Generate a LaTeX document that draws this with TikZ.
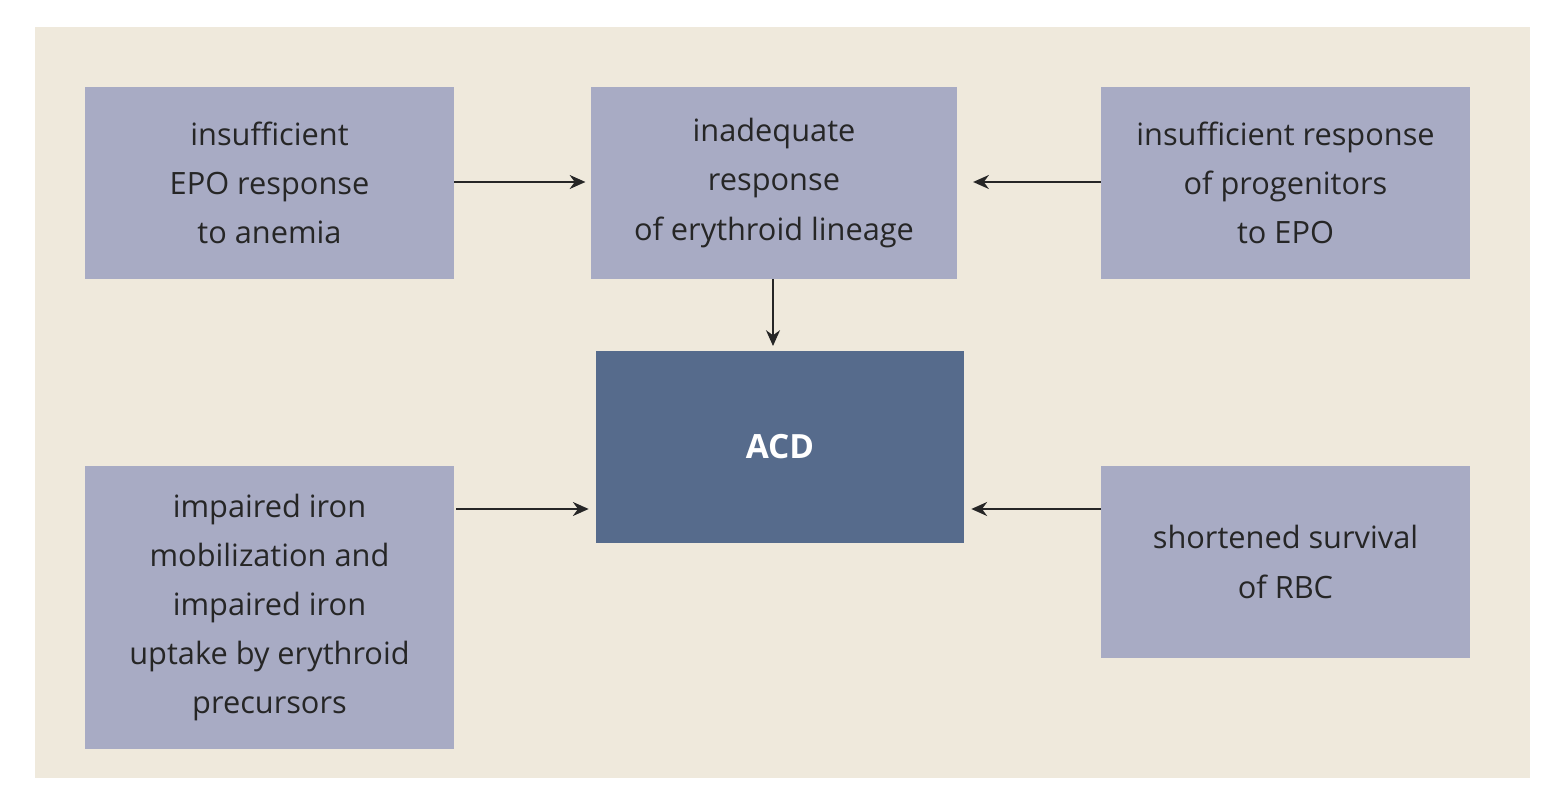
\documentclass[tikz,border=0pt]{standalone}
\usepackage{fontspec}
\setmainfont{Open Sans}
\usetikzlibrary{arrows.meta}
\definecolor{bgbeige}{HTML}{EFE9DC}
\definecolor{boxgrey}{HTML}{A8ABC4}
\definecolor{acdblue}{HTML}{566B8C}
\begin{document}
\begin{tikzpicture}[x=0.02cm,y=-0.02cm,
 box/.style={fill=boxgrey,minimum width=7.38cm,inner sep=0pt,align=center,
   font=\fontsize{17.5}{28}\selectfont,text=black!85},
 link/.style={draw=black!85,thick,-{Stealth[length=9pt,width=8pt]}}]

  \useasboundingbox (0,0) rectangle (1546,800);
  \fill[white] (0,0) rectangle (1546,800);
  \fill[bgbeige] (35,27) rectangle (1530,778);

  \node[box,minimum height=3.84cm] (epo) at (269.5,183) {insufficient\\EPO response\\to anemia};
  \node[box,minimum width=7.32cm,minimum height=3.84cm] (ery) at (774,183) {inadequate\\response\\of erythroid lineage};
  \node[box,minimum height=3.84cm] (prog) at (1285.5,183) {insufficient response\\of progenitors\\to EPO};
  \node[box,fill=acdblue,text=white,minimum width=7.36cm,minimum height=3.84cm,
    font=\fontsize{19}{28}\selectfont\bfseries] (acd) at (780,447) {ACD};
  \node[box,minimum height=5.66cm] (iron) at (269.5,607.5) {impaired iron\\mobilization and\\impaired iron\\uptake by erythroid\\precursors};
  \node[box,minimum height=3.84cm] (rbc) at (1285.5,562) {shortened survival\\of RBC};

  \coordinate (ironout) at (456,509);
  \coordinate (rbcout) at (1101,509);
  \coordinate (acdin) at (773,346);

  \draw[link] (epo.east |- 0,182) -- ([xshift=-3pt]ery.west |- 0,182);
  \draw[link] (prog.west |- 0,182) -- ([xshift=9pt]ery.east |- 0,182);
  \draw[link] (ery.south -| acdin) -- (acdin);
  \draw[link] (ironout) -- ([xshift=-4pt]acd.west |- ironout);
  \draw[link] (rbcout) -- ([xshift=4pt]acd.east |- rbcout);
\end{tikzpicture}
\end{document}
